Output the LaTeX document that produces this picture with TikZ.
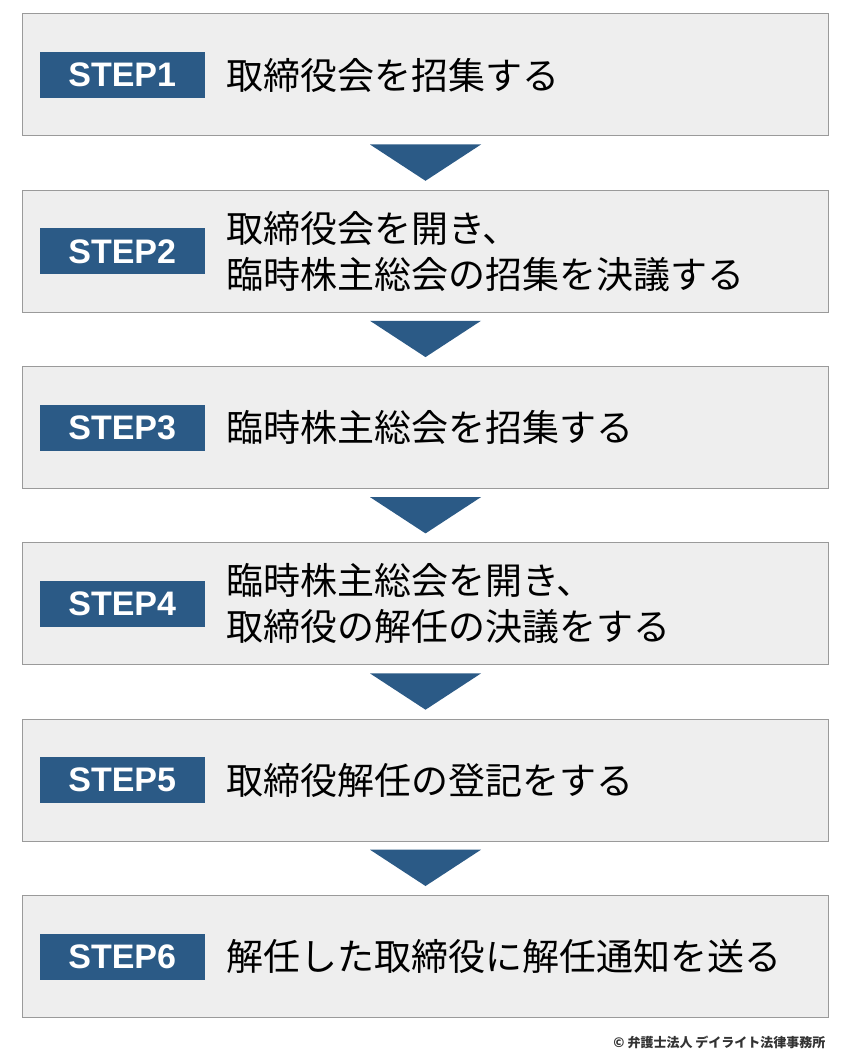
\documentclass[tikz,border=0pt]{standalone}
\usepackage{fontspec}
\setmainfont{Liberation Sans}
\newfontfamily\jpfont{Noto Sans CJK JP}
\usetikzlibrary{positioning, calc}
\definecolor{stepblue}{HTML}{2B5A86}
\definecolor{boxgray}{HTML}{EEEEEE}
\definecolor{edgegray}{HTML}{9A9A9A}
\tikzstyle{stepbox} = [
	rectangle,
	minimum width=806pt,
	minimum height=122pt,
	draw=edgegray,
	line width=1pt,
	fill=boxgray
]
\tikzstyle{steplabel} = [
	rectangle,
	minimum width=165pt,
	minimum height=46pt,
	inner sep=0pt,
	fill=stepblue,
	text=white,
	font=\fontsize{34}{40}\selectfont\bfseries
]
\tikzstyle{steptext} = [
	align=left,
	inner sep=0pt,
	font=\jpfont\fontsize{37}{46}\selectfont
]
\tikzstyle{pointer} = [fill=stepblue]
\begin{document}
\begin{tikzpicture}[node distance=53.3pt]

		\useasboundingbox (0,0) rectangle (850pt,-1064pt);

		\node (step1) [stepbox] at (425.5pt,-75pt) {};
		\node (step2) [stepbox, below=of step1] {};
		\node (step3) [stepbox, below=of step2] {};
		\node (step4) [stepbox, below=of step3] {};
		\node (step5) [stepbox, below=of step4] {};
		\node (step6) [stepbox, below=of step5] {};

		\foreach \i in {1,...,6}
			\node (label\i) [steplabel, right=17.5pt of step\i.west] {STEP\i};

		\node (text1) [steptext, right=21pt of label1] {取締役会を招集する};
		\node (text2) [steptext, right=21pt of label2] {取締役会を開き、\\臨時株主総会の招集を決議する};
		\node (text3) [steptext, right=21pt of label3] {臨時株主総会を招集する};
		\node (text4) [steptext, right=21pt of label4] {臨時株主総会を開き、\\取締役の解任の決議をする};
		\node (text5) [steptext, right=21pt of label5] {取締役解任の登記をする};
		\node (text6) [steptext, right=21pt of label6] {解任した取締役に解任通知を送る};

		\foreach \a/\b in {step1/step2, step2/step3, step3/step4, step4/step5, step5/step6}
			\fill [pointer] ($(\a.south)+(-55.5pt,-8pt)$) -- ($(\a.south)+(55.5pt,-8pt)$) -- ($(\b.north)+(0,9pt)$) -- cycle;

		\node (credit) [anchor=east, text=black!80, font=\jpfont\bfseries\fontsize{13}{15}\selectfont] at ($(step6.south east)+(0pt,-24pt)$) {© 弁護士法人 デイライト法律事務所};

	\end{tikzpicture}
\end{document}
